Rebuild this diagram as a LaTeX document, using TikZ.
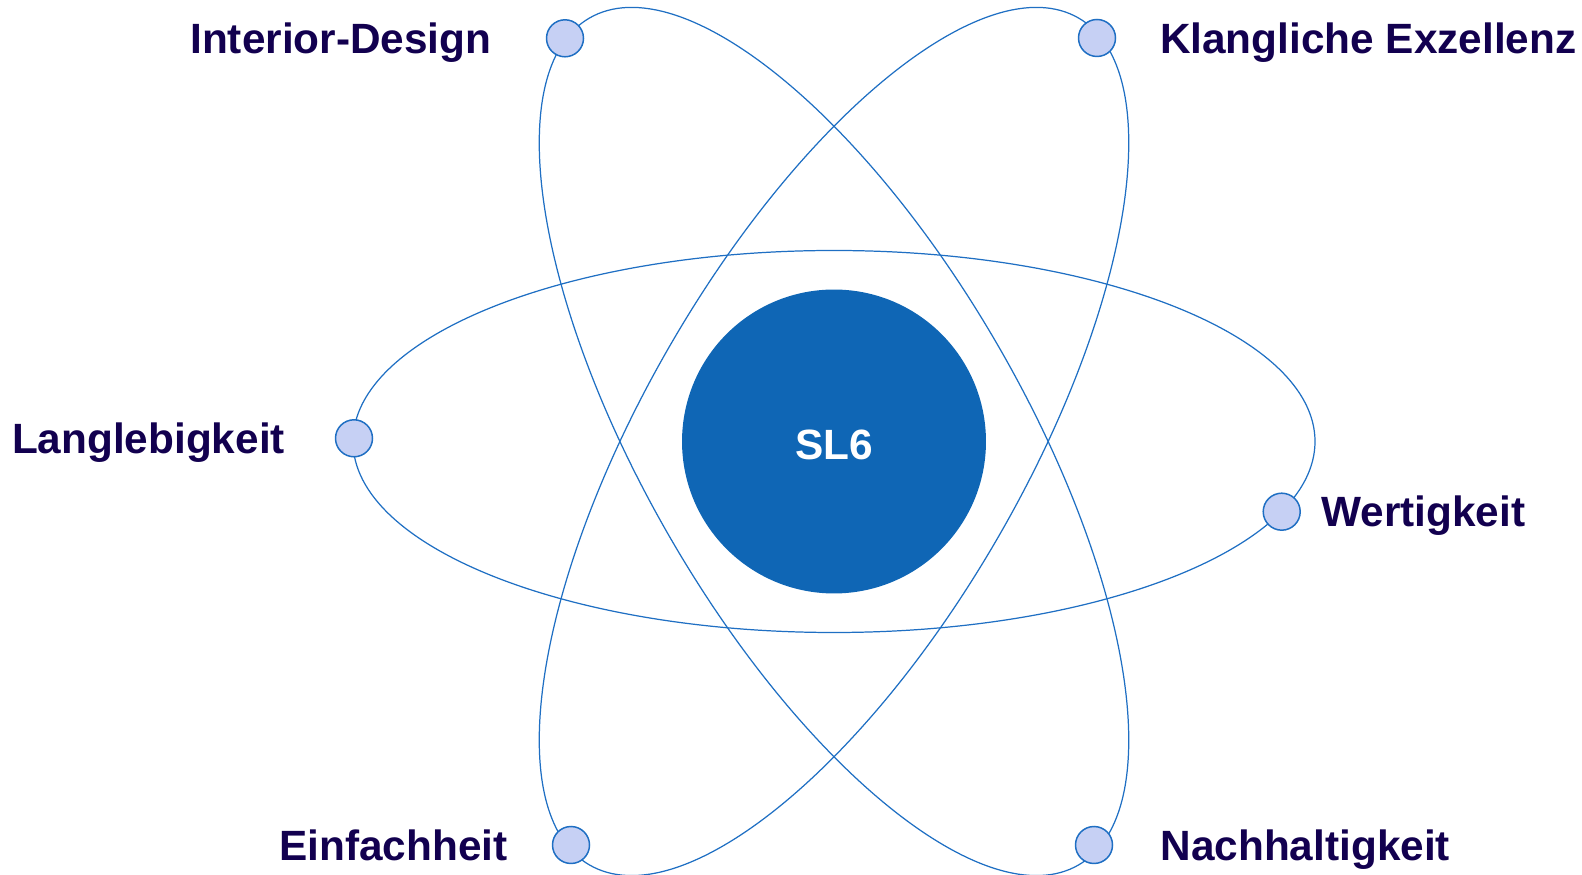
\documentclass[tikz,border=0pt]{standalone}
\usepackage{fontspec}
\setmainfont{Liberation Sans}
\usepackage{xcolor}
\usepackage{tikz}
\usetikzlibrary{shapes, positioning}

\definecolor{orbitblue}{HTML}{1F6FC3}
\definecolor{coreblue}{HTML}{0F66B5}
\definecolor{dotfill}{HTML}{C6D0F4}
\definecolor{labelnavy}{HTML}{12004F}

\begin{document}
\begin{tikzpicture}[x=0.02cm, y=0.02cm,
    orbit/.style={draw=orbitblue, line width=0.7pt},
    electron/.style={circle, draw=orbitblue, fill=dotfill, line width=0.85pt, minimum size=0.74cm, inner sep=0pt},
    core/.style={circle, fill=coreblue, minimum size=6.08cm, inner sep=0pt, text height=0.73cm, text depth=0pt, text=white, font=\fontsize{24.1}{29}\selectfont\bfseries},
    tag/.style={inner sep=0pt, text height=0.61cm, text depth=0pt, text=labelnavy, font=\fontsize{24.1}{29}\selectfont\bfseries}]
    \useasboundingbox (0,0) rectangle (1582,875);
    \coordinate (c) at (834,433.5);
    % orbits
    \draw[orbit] (c) ellipse [x radius=481, y radius=191];
    \draw[orbit, rotate around={60:(c)}] (c) ellipse [x radius=489, y radius=190];
    \draw[orbit, rotate around={-60:(c)}] (c) ellipse [x radius=489, y radius=190];
    % nucleus
    \node[core] (sl6) at (c) {SL6};
    % electrons
    \node[electron] (interior) at (565,836.7) {};
    \node[electron] (klang) at (1097,837) {};
    \node[electron] (lang) at (354,436.7) {};
    \node[electron] (wert) at (1281.7,363.3) {};
    \node[electron] (einfach) at (571,30) {};
    \node[electron] (nachhalt) at (1094,30) {};
    % labels
    \node[tag, left=1.08cm of interior] (interiortxt) {Interior-Design};
    \node[tag, right=0.87cm of klang] (klangtxt) {Klangliche Exzellenz};
    \node[tag, left=0.99cm of lang] (langtxt) {Langlebigkeit};
    \node[tag, right=0.4cm of wert] (werttxt) {Wertigkeit};
    \node[tag, left=0.88cm of einfach] (einfachtxt) {Einfachheit};
    \node[tag, right=0.94cm of nachhalt] (nachhalttxt) {Nachhaltigkeit};
\end{tikzpicture}
\end{document}
